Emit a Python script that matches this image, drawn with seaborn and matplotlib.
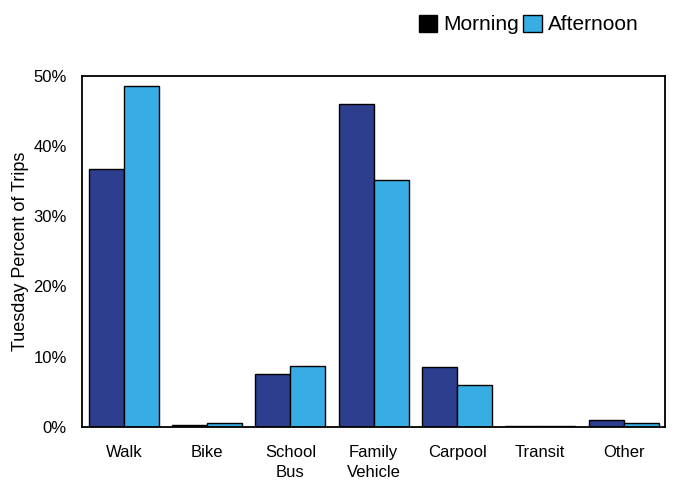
import pandas as pd
import matplotlib.pyplot as plt
from matplotlib.patches import Patch
import seaborn as sns

categories = ['Walk', 'Bike', 'School\nBus', 'Family\nVehicle', 'Carpool', 'Transit', 'Other']
morning = [36.7, 0.2, 7.5, 46.0, 8.5, 0.1, 1.0]
afternoon = [48.6, 0.5, 8.7, 35.2, 6.0, 0.1, 0.5]
series = ['Morning', 'Afternoon']
colors = ['#2d3e8e', '#38ade3']
yticks = [0, 10, 20, 30, 40, 50]

df = pd.DataFrame({
    'mode': categories * 2,
    'pct': morning + afternoon,
    'time': [series[0]] * len(categories) + [series[1]] * len(categories),
})

sns.set_style('white')
plt.rcParams['font.family'] = ['Liberation Sans', 'DejaVu Sans']
plt.rcParams['text.color'] = 'black'
plt.rcParams['xtick.color'] = 'black'
plt.rcParams['ytick.color'] = 'black'
plt.rcParams['axes.labelcolor'] = 'black'

fig = plt.figure(figsize=(6.74, 4.9), dpi=100)
ax = fig.add_axes([0.122, 0.129, 0.865, 0.716])

sns.barplot(data=df, x='mode', y='pct', hue='time', palette=colors, saturation=1,
            width=0.84, edgecolor='black', linewidth=1.0, ax=ax, legend=False)

ax.set_ylim(0, 50)
ax.set_yticks(yticks)
ax.set_yticklabels(['%d%%' % v for v in yticks], fontsize=12)
ax.set_xticks(range(len(categories)))
ax.set_xticklabels(categories, fontsize=12, linespacing=1.45)
ax.set_xlabel('')
ax.set_ylabel('Tuesday Percent of Trips', fontsize=13, labelpad=3)
ax.tick_params(axis='x', direction='out', length=5, width=1.3, pad=8)
ax.tick_params(axis='y', direction='out', length=5, width=1.3, pad=6)
for s in ax.spines.values():
    s.set_color('black')
    s.set_linewidth(1.3)

# legend sits above the plot on the right, first swatch is drawn black
handles = [Patch(facecolor='black', edgecolor='black'),
           Patch(facecolor=colors[1], edgecolor='black')]
fig.legend(handles, series, loc='upper right', bbox_to_anchor=(0.97, 1.0),
           ncol=2, frameon=False, fontsize=15, handlelength=0.9, handleheight=0.9,
           handletextpad=0.3, columnspacing=0.2, borderaxespad=0.3)

plt.savefig('out.png', dpi=100)
